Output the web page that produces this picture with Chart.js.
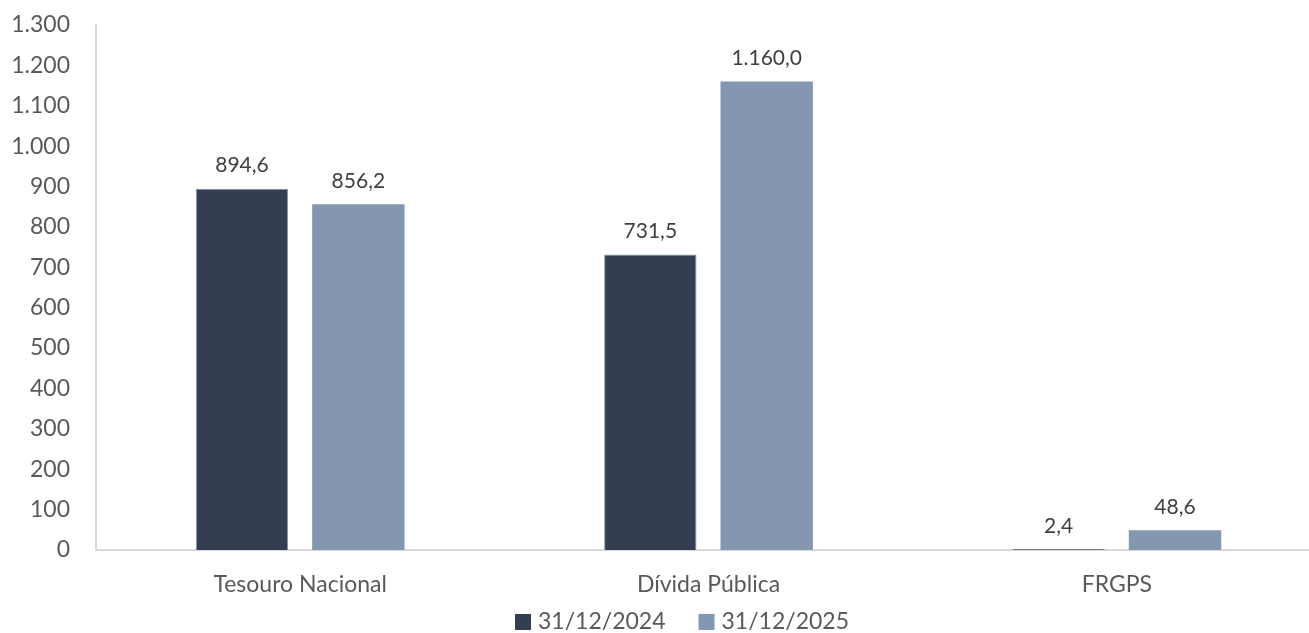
<!DOCTYPE html>
<html>
<head>
<meta charset="utf-8">
<script src="https://cdn.jsdelivr.net/npm/chart.js@4"></script>
<style>
  html, body { margin: 0; padding: 0; background: #fff; overflow: hidden; }
  #wrap { width: 1321px; height: 633px; }
</style>
</head>
<body>
<div id="wrap"><canvas id="chart"></canvas></div>
<script>
// data
const categories = ['Tesouro Nacional', 'Dívida Pública', 'FRGPS'];
const series2024 = [894.6, 731.5, 2.4];
const series2025 = [856.2, 1160.0, 48.6];
const seriesLabels = ['31/12/2024', '31/12/2025'];
const yTicks = [0, 100, 200, 300, 400, 500, 600, 700, 800, 900, 1000, 1100, 1200, 1300];

const FONT = 'Lato, "Open Sans", sans-serif';
const TEXT = '#595959';

function fmt(v, dec) {
    return v.toLocaleString('pt-BR', { minimumFractionDigits: dec, maximumFractionDigits: dec });
}

// value labels above bars
const barLabels = {
    id: 'barLabels',
    afterDatasetsDraw(chart) {
        const ctx = chart.ctx;
        ctx.save();
        ctx.font = '21px ' + FONT;
        ctx.fillStyle = '#404040';
        ctx.textAlign = 'center';
        ctx.textBaseline = 'middle';
        chart.data.datasets.forEach((ds, i) => {
            chart.getDatasetMeta(i).data.forEach((bar, j) => {
                ctx.fillText(fmt(ds.data[j], 1), bar.x, bar.y - 23);
            });
        });
        ctx.restore();
    }
};

// legend like the Excel one: square + text, drawn under the axis labels
const bottomLegend = {
    id: 'bottomLegend',
    afterDraw(chart) {
        const ctx = chart.ctx;
        ctx.save();
        ctx.font = '23px ' + FONT;
        ctx.textBaseline = 'middle';
        ctx.textAlign = 'left';
        let x = 515;
        const y = 622;
        chart.data.datasets.forEach(ds => {
            ctx.fillStyle = ds.backgroundColor;
            ctx.fillRect(x, y - 8, 16, 16);
            ctx.fillStyle = TEXT;
            ctx.fillText(ds.label, x + 23, y);
            x += 23 + ctx.measureText(ds.label).width + 33;
        });
        ctx.restore();
    }
};

document.addEventListener('DOMContentLoaded', function() {
    const ctx = document.getElementById('chart');
    new Chart(ctx, {
        type: 'bar',
        data: {
            labels: categories,
            datasets: [{
                label: seriesLabels[0],
                data: series2024,
                backgroundColor: '#333F50',
                borderColor: '#8497B0',
                borderWidth: 1
            }, {
                label: seriesLabels[1],
                data: series2025,
                backgroundColor: '#8497B0',
                borderWidth: 0
            }]
        },
        options: {
            responsive: true,
            maintainAspectRatio: false,
            animation: false,
            categoryPercentage: 0.57,
            barPercentage: 0.794,
            layout: { padding: { left: 0, right: 0, top: 0, bottom: 27 } },
            plugins: {
                legend: { display: false },
                tooltip: { enabled: false }
            },
            scales: {
                x: {
                    grid: { display: false, drawTicks: false },
                    border: { display: true, color: '#D9D9D9', width: 2 },
                    afterFit: s => { s.height = 56; },
                    ticks: { font: { family: FONT, size: 23 }, color: TEXT, padding: 21 }
                },
                y: {
                    min: 0,
                    max: 1300,
                    grid: { display: false, drawTicks: false },
                    border: { display: true, color: '#D9D9D9', width: 2 },
                    afterBuildTicks: s => { s.ticks = yTicks.map(v => ({ value: v })); },
                    afterFit: s => { s.width = 96; s.paddingTop = 25; s.paddingBottom = 0; },
                    ticks: {
                        font: { family: FONT, size: 23 },
                        color: TEXT,
                        padding: 26,
                        callback: v => fmt(v, 0)
                    }
                }
            }
        },
        plugins: [barLabels, bottomLegend]
    });
});
</script>
</body>
</html>
